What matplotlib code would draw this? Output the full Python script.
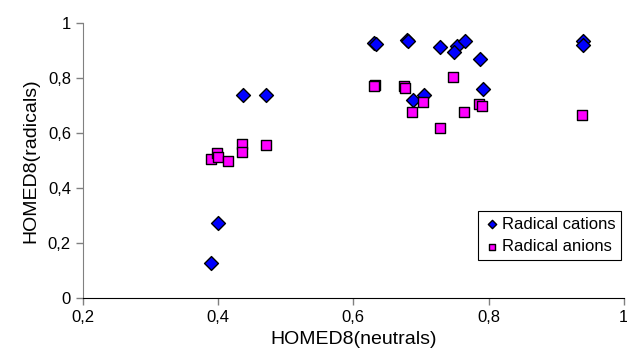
import matplotlib
matplotlib.use('Agg')
import matplotlib.pyplot as plt
from matplotlib.ticker import FuncFormatter

plt.rcParams['font.family'] = ['Liberation Sans', 'DejaVu Sans']

# radical cations
cat_x = [0.631, 0.633, 0.437, 0.471, 0.400, 0.390, 0.679, 0.681, 0.728, 0.753,
         0.749, 0.765, 0.787, 0.791, 0.688, 0.704, 0.939, 0.939]
cat_y = [0.926, 0.922, 0.737, 0.737, 0.274, 0.128, 0.938, 0.935, 0.913, 0.914,
         0.892, 0.933, 0.868, 0.758, 0.719, 0.737, 0.935, 0.919]

# radical anions
an_x = [0.632, 0.631, 0.436, 0.436, 0.471, 0.389, 0.398, 0.400, 0.414, 0.675,
        0.677, 0.687, 0.703, 0.748, 0.728, 0.764, 0.786, 0.790, 0.938]
an_y = [0.775, 0.770, 0.559, 0.530, 0.556, 0.506, 0.528, 0.512, 0.497, 0.768,
        0.764, 0.676, 0.711, 0.801, 0.616, 0.676, 0.706, 0.696, 0.666]

xticks = [0.2, 0.4, 0.6, 0.8, 1.0]
yticks = [0, 0.2, 0.4, 0.6, 0.8, 1.0]


def comma(v, pos):
    s = ('%g' % v)
    return s.replace('.', ',')


fig = plt.figure(figsize=(6.27, 3.59), dpi=100)
ax = fig.add_axes([0.132, 0.170, 0.863, 0.767])

ax.scatter(cat_x, cat_y, marker='D', s=50, c='#0000FF', edgecolors='black',
           linewidths=1.0, label='Radical cations', zorder=3)
ax.scatter(an_x, an_y, marker='s', s=62, c='#FF00FF', edgecolors='black',
           linewidths=1.0, label='Radical anions', zorder=3)

ax.set_xlim(0.2, 1.0)
ax.set_ylim(0, 1.0)
ax.set_xticks(xticks)
ax.set_yticks(yticks)
ax.xaxis.set_major_formatter(FuncFormatter(comma))
ax.yaxis.set_major_formatter(FuncFormatter(comma))
ax.tick_params(direction='out', length=5, width=1, labelsize=12,
               color='#808080', labelcolor='black')
ax.tick_params(axis='x', pad=4)

for side in ['top', 'right']:
    ax.spines[side].set_visible(False)
ax.spines['left'].set_color('#808080')
ax.spines['bottom'].set_color('black')

ax.set_xlabel('HOMED8(neutrals)', fontsize=14, labelpad=4)
ax.set_ylabel('HOMED8(radicals)', fontsize=14, labelpad=6)

leg = ax.legend(loc='lower right', bbox_to_anchor=(0.995, 0.138), fontsize=12,
                markerscale=0.6, handletextpad=0.15, handlelength=0.9,
                borderpad=0.35, labelspacing=0.45, fancybox=False, framealpha=1,
                edgecolor='black', borderaxespad=0)
leg.get_frame().set_linewidth(0.8)

fig.savefig('out.png', dpi=100)
